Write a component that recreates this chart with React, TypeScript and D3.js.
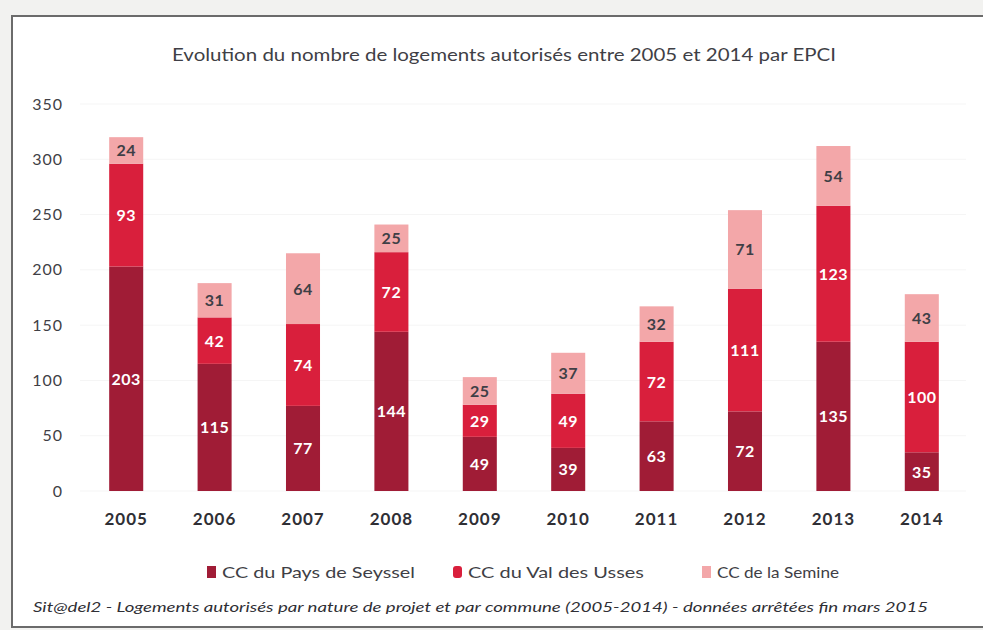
import React from "react";
import * as d3 from "d3";

const years = ["2005", "2006", "2007", "2008", "2009", "2010", "2011", "2012", "2013", "2014"];
const seyssel = [203, 115, 77, 144, 49, 39, 63, 72, 135, 35];
const usses = [93, 42, 74, 72, 29, 49, 72, 111, 123, 100];
const semine = [24, 31, 64, 25, 25, 37, 32, 71, 54, 43];
const seriesNames = ["CC du Pays de Seyssel", "CC du Val des Usses", "CC de la Semine"];
const yTicks = [0, 50, 100, 150, 200, 250, 300, 350];

const colors = ["#a01c36", "#d91f3c", "#f3a7a9"];
const labelColors = ["#ffffff", "#ffffff", "#3f3f46"];
const FONT = "Lato, 'Open Sans', sans-serif";

export default function App() {
  const W = 983, H = 630;
  const x = d3.scaleBand<string>().domain(years).range([82, 966]).paddingInner(0.615).paddingOuter(0.3075);
  const y = d3.scaleLinear().domain([0, 350]).range([491, 104]);
  const rows = years.map((yr, i) => ({ year: yr, s0: seyssel[i], s1: usses[i], s2: semine[i] }));
  const stack = d3.stack<any>().keys(["s0", "s1", "s2"])(rows);

  const legendX = [207, 453, 702];
  const legendLen = [193, 176, 122];

  return (
    <svg width={W} height={H} style={{ position: "absolute", left: 0, top: 0 }}>
      <rect x={0} y={0} width={W} height={H} fill="#f2f2f0" />
      <rect x={12} y={16} width={W} height={H - 19} fill="#ffffff" stroke="#6b6b6b" strokeWidth={2} />
      <text x={172} y={61} textLength={664} lengthAdjust="spacingAndGlyphs" fontFamily={FONT} fontSize={17} fill="#3f3f46">
        Evolution du nombre de logements autorisés entre 2005 et 2014 par EPCI
      </text>
      {yTicks.map((t) => (
        <g key={t}>
          <line x1={80} x2={966} y1={y(t)} y2={y(t)} stroke="#f5f5f5" strokeWidth={1} />
          <text x={63} y={y(t) + 5.5} textAnchor="end" fontFamily={FONT} fontSize={16} letterSpacing={1} fill="#3f3f46">
            {t}
          </text>
        </g>
      ))}
      {stack.map((layer, li) => (
        <g key={li}>
          {layer.map((d: any, i: number) => {
            const x0 = x(years[i])!;
            const y0 = y(d[1]);
            const h = y(d[0]) - y(d[1]);
            const v = d[1] - d[0];
            return (
              <g key={i}>
                <rect x={x0} y={y0} width={x.bandwidth()} height={h} fill={colors[li]} />
                <text
                  x={x0 + x.bandwidth() / 2}
                  y={y0 + h / 2 + 6}
                  textAnchor="middle"
                  fontFamily={FONT}
                  fontWeight="bold"
                  fontSize={16}
                  letterSpacing={0.5}
                  fill={labelColors[li]}
                >
                  {v}
                </text>
              </g>
            );
          })}
        </g>
      ))}
      {years.map((yr) => (
        <text key={yr} x={x(yr)! + x.bandwidth() / 2} y={525} textAnchor="middle" fontFamily={FONT} fontWeight="bold" fontSize={17} letterSpacing={1} fill="#2f2f35">
          {yr}
        </text>
      ))}
      {seriesNames.map((n, i) => (
        <g key={n}>
          <rect x={legendX[i]} y={566} width={9} height={12} rx={i === 1 ? 3 : 0} fill={colors[i]} />
          <text x={legendX[i] + 15} y={578} textLength={legendLen[i]} lengthAdjust="spacingAndGlyphs" fontFamily={FONT} fontSize={16} fill="#3f3f46">
            {n}
          </text>
        </g>
      ))}
      <text x={33} y={612} textLength={895} lengthAdjust="spacingAndGlyphs" fontFamily={FONT} fontStyle="italic" fontSize={14} fill="#2f2f35">
        Sit@del2 - Logements autorisés par nature de projet et par commune (2005-2014) - données arrêtées fin mars 2015
      </text>
    </svg>
  );
}
